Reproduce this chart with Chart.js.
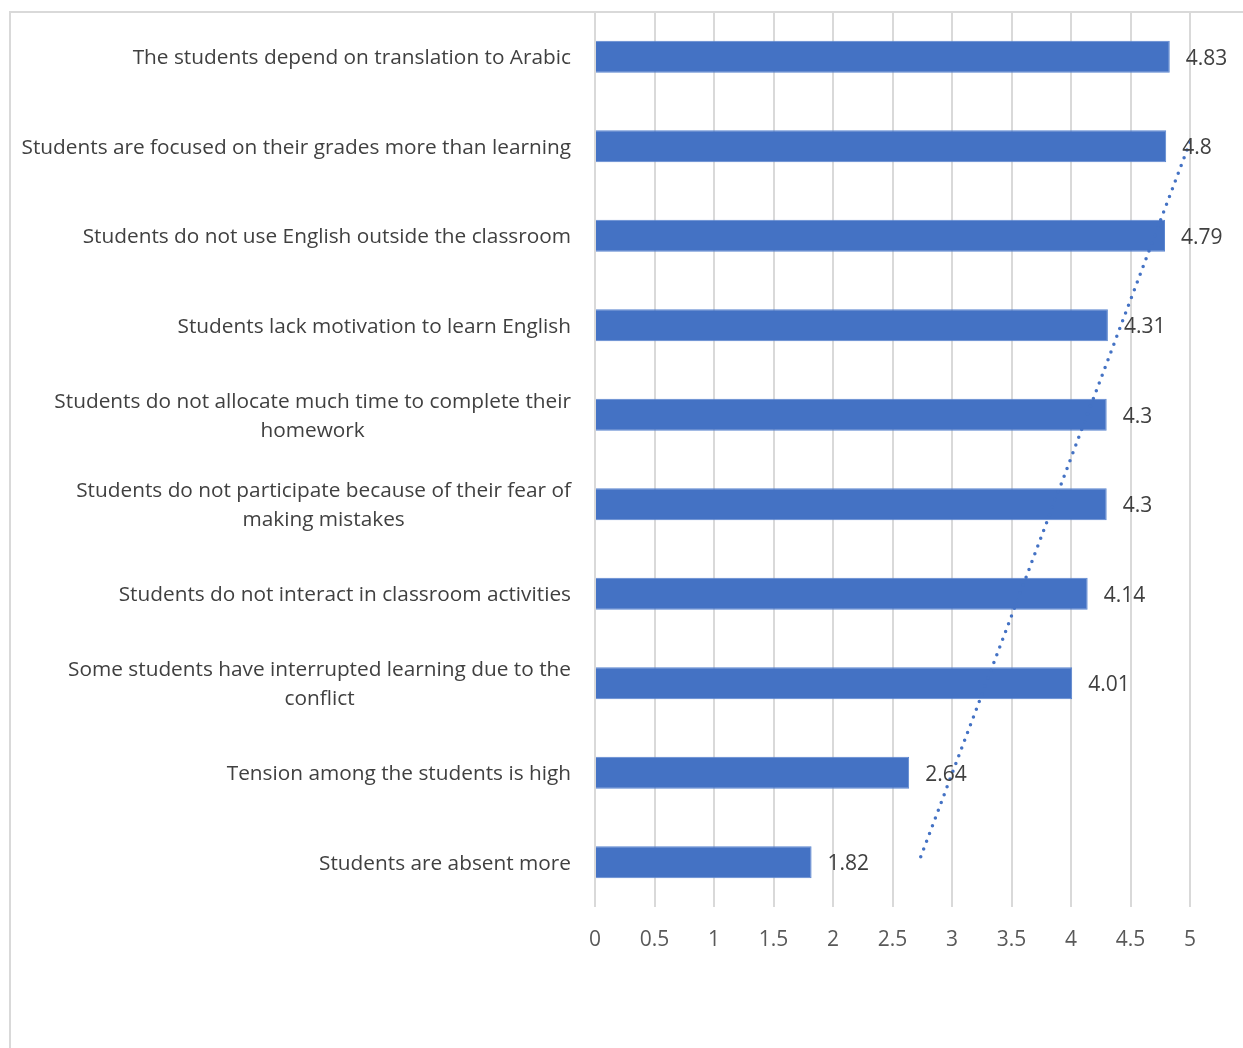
<!DOCTYPE html>
<html>
<head>
<meta charset="utf-8">
<script src="https://cdn.jsdelivr.net/npm/chart.js@4"></script>
<style>
  body { margin: 0; background: #fff; }
  #frame {
    position: absolute; left: 9px; top: 11px;
    width: 1400px; height: 1200px;
    border-left: 2px solid #d9d9d9; border-top: 2px solid #d9d9d9;
  }
  #chart { position: absolute; left: 0; top: 0; }
</style>
</head>
<body>
<div id="frame"></div>
<canvas id="chart" width="1243" height="1048"></canvas>
<script>
// ================= DADOS =================
const categorias = [
  "The students depend on translation to Arabic",
  "Students are focused on their grades more than learning",
  "Students do not use English outside the classroom",
  "Students lack motivation to learn English",
  ["Students do not allocate much time to complete their", "homework"],
  ["Students do not participate because of their fear of", "making mistakes"],
  "Students do not interact in classroom activities",
  ["Some students have interrupted learning due to the", "conflict"],
  "Tension among the students is high",
  "Students are absent more"
];

const medias = [4.83, 4.8, 4.79, 4.31, 4.3, 4.3, 4.14, 4.01, 2.64, 1.82];

// linha de tendencia (linear) - extremos no topo e na base
const tendencia = [5.27, null, null, null, null, null, null, null, null, 2.72];

const ticksX = [0, 0.5, 1, 1.5, 2, 2.5, 3, 3.5, 4, 4.5, 5];

const AZUL = "#4472C4";
const FONTE = "'Open Sans', sans-serif";

// ================= ROTULOS DAS CATEGORIAS =================
const rotulosCategorias = {
  id: "rotulosCategorias",
  afterDraw(chart) {
    const ctx = chart.ctx;
    const y = chart.scales.y;
    ctx.save();
    ctx.font = "20.8px " + FONTE;
    ctx.fillStyle = "#404040";
    ctx.textAlign = "center";
    ctx.textBaseline = "middle";
    categorias.forEach((cat, i) => {
      const linhas = Array.isArray(cat) ? cat : [cat];
      const largura = Math.max(...linhas.map(l => ctx.measureText(l).width));
      const cx = y.right - 24 - largura / 2;
      const cy = y.getPixelForValue(i) + 1.5;
      const alt = 29;
      linhas.forEach((l, k) => {
        ctx.fillText(l, cx, cy + (k - (linhas.length - 1) / 2) * alt);
      });
    });
    ctx.restore();
  }
};

// ================= ROTULOS DOS VALORES =================
const rotulosValores = {
  id: "rotulosValores",
  afterDatasetsDraw(chart) {
    const ctx = chart.ctx;
    const meta = chart.getDatasetMeta(1);
    ctx.save();
    ctx.font = "21px " + FONTE;
    ctx.fillStyle = "#404040";
    ctx.textAlign = "left";
    ctx.textBaseline = "middle";
    meta.data.forEach((bar, i) => {
      ctx.fillText(String(medias[i]), bar.x + 16, bar.y + 2);
    });
    ctx.restore();
  }
};

new Chart(document.getElementById("chart"), {
  type: "bar",
  data: {
    labels: categorias.map(c => Array.isArray(c) ? c.join(" ") : c),
    datasets: [
      {
        type: "line",
        indexAxis: "y",
        data: tendencia,
        spanGaps: true,
        borderColor: AZUL,
        borderWidth: 3.5,
        borderDash: [0, 8.3],
        borderCapStyle: "round",
        pointRadius: 0,
        fill: false
      },
      {
        data: medias,
        backgroundColor: AZUL,
        borderColor: "#5b86d0",
        borderWidth: 1,
        categoryPercentage: 1,
        barPercentage: 0.36
      }
    ]
  },
  options: {
    indexAxis: "y",
    responsive: false,
    animation: false,
    devicePixelRatio: 1,
    layout: { padding: { top: 12, right: 53, left: 0, bottom: 0 } },
    plugins: {
      legend: { display: false },
      tooltip: { enabled: false }
    },
    scales: {
      x: {
        min: 0,
        max: 5,
        afterBuildTicks: s => { s.ticks = ticksX.map(v => ({ value: v })); },
        afterFit: s => { s.height = 141; },
        grid: { color: "#d9d9d9", lineWidth: 2, drawTicks: false },
        border: { display: false },
        ticks: {
          color: "#595959",
          padding: 20,
          font: { family: FONTE, size: 21 },
          callback: v => String(v)
        }
      },
      y: {
        afterFit: s => { s.width = 595; },
        grid: { display: false },
        border: { display: false },
        ticks: { display: false }
      }
    }
  },
  plugins: [rotulosCategorias, rotulosValores]
});
</script>
</body>
</html>
